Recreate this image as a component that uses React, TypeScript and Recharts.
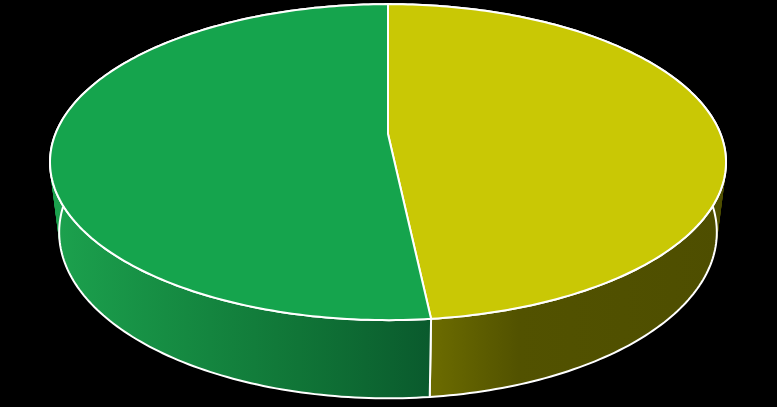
import React from 'react';
import { PieChart, Pie, Cell } from 'recharts';

const categories = ['Série 1', 'Série 2'];
const values = [48.3, 51.7];
const topColors = ['#C9C805', '#15A44D'];
const sideFills = ['url(#sideYellow)', 'url(#sideGreen)'];

const data = categories.map((name, i) => ({ name, value: values[i] }));

// perspective projection parameters (layout only)
const CX = 388;
const CY = 134;
const A = 153;
const B = 332.6;
const K = 0.178;
const G = 0.027;
const BOFF = 75;

function uv(theta: number) {
  const r = (theta * Math.PI) / 180;
  return [Math.sin(r), -Math.cos(r)];
}
function topPt(theta: number): [number, number] {
  const [u, v] = uv(theta);
  const w = 1 - K * v;
  return [CX + (B * u) / w, CY + (A * v) / w];
}
function botPt(theta: number): [number, number] {
  const [u, v] = uv(theta);
  const w = 1 - K * v + G;
  return [CX + (B * u) / w, (CY * (1 - K * v) + A * v + BOFF) / w];
}
const f = (p: [number, number]) => `${p[0].toFixed(2)},${p[1].toFixed(2)}`;

function angles(props: any) {
  const t1 = 90 - props.startAngle;
  const t2 = 90 - props.endAngle;
  return t1 <= t2 ? [t1, t2] : [t2, t1];
}

const SideShape = (props: any) => {
  const [t1, t2] = angles(props);
  const n = Math.max(2, Math.ceil((t2 - t1) / 1));
  let quads = '';
  const tops: [number, number][] = [];
  const bots: [number, number][] = [];
  for (let i = 0; i <= n; i++) {
    const t = t1 + ((t2 - t1) * i) / n;
    tops.push(topPt(t));
    bots.push(botPt(t));
  }
  for (let i = 0; i < n; i++) {
    let pts = [tops[i], tops[i + 1], bots[i + 1], bots[i]];
    let area = 0;
    for (let j = 0; j < 4; j++) {
      const a = pts[j];
      const b = pts[(j + 1) % 4];
      area += a[0] * b[1] - b[0] * a[1];
    }
    if (area < 0) pts = pts.reverse();
    quads += `M${f(pts[0])}L${f(pts[1])}L${f(pts[2])}L${f(pts[3])}Z`;
  }
  let outline = `M${f(tops[0])}`;
  for (let i = 1; i <= n; i++) outline += `L${f(tops[i])}`;
  for (let i = n; i >= 0; i--) outline += `L${f(bots[i])}`;
  outline += 'Z';
  return (
    <g>
      <path d={quads} fill={props.fill} stroke={props.fill} strokeWidth={0.6} />
      <path d={outline} fill="none" stroke="#ffffff" strokeWidth={2} strokeLinejoin="round" />
    </g>
  );
};

const TopShape = (props: any) => {
  const [t1, t2] = angles(props);
  const n = Math.max(2, Math.ceil((t2 - t1) / 1));
  let d = `M${CX},${CY}`;
  for (let i = 0; i <= n; i++) {
    const t = t1 + ((t2 - t1) * i) / n;
    d += `L${f(topPt(t))}`;
  }
  d += 'Z';
  return <path d={d} fill={props.fill} stroke="#ffffff" strokeWidth={2} strokeLinejoin="round" />;
};

export default function App() {
  return (
    <div style={{ position: 'absolute', left: 0, top: 0, width: 777, height: 407, background: '#000000' }}>
      <PieChart width={777} height={407} margin={{ top: 0, right: 0, bottom: 0, left: 0 }}>
        <defs>
          <linearGradient id="sideGreen" gradientUnits="userSpaceOnUse" x1={51} y1={0} x2={432} y2={0}>
            <stop offset="0" stopColor="#1CA24E" />
            <stop offset="0.3" stopColor="#168D43" />
            <stop offset="0.65" stopColor="#107537" />
            <stop offset="1" stopColor="#0A5A2D" />
          </linearGradient>
          <linearGradient id="sideYellow" gradientUnits="userSpaceOnUse" x1={430} y1={0} x2={726} y2={0}>
            <stop offset="0" stopColor="#6C6C00" />
            <stop offset="0.3" stopColor="#525200" />
            <stop offset="1" stopColor="#4E4E00" />
          </linearGradient>
        </defs>
        <Pie
          data={data}
          dataKey="value"
          nameKey="name"
          cx={CX}
          cy={CY}
          outerRadius={150}
          startAngle={90}
          endAngle={-270}
          stroke="none"
          isAnimationActive={false}
          shape={SideShape}
          activeShape={SideShape}
          inactiveShape={SideShape}
        >
          {data.map((d, i) => (
            <Cell key={`s-${d.name}`} fill={sideFills[i]} />
          ))}
        </Pie>
        <Pie
          data={data}
          dataKey="value"
          nameKey="name"
          cx={CX}
          cy={CY}
          outerRadius={150}
          startAngle={90}
          endAngle={-270}
          stroke="none"
          isAnimationActive={false}
          shape={TopShape}
          activeShape={TopShape}
          inactiveShape={TopShape}
        >
          {data.map((d, i) => (
            <Cell key={`t-${d.name}`} fill={topColors[i]} />
          ))}
        </Pie>
      </PieChart>
    </div>
  );
}
